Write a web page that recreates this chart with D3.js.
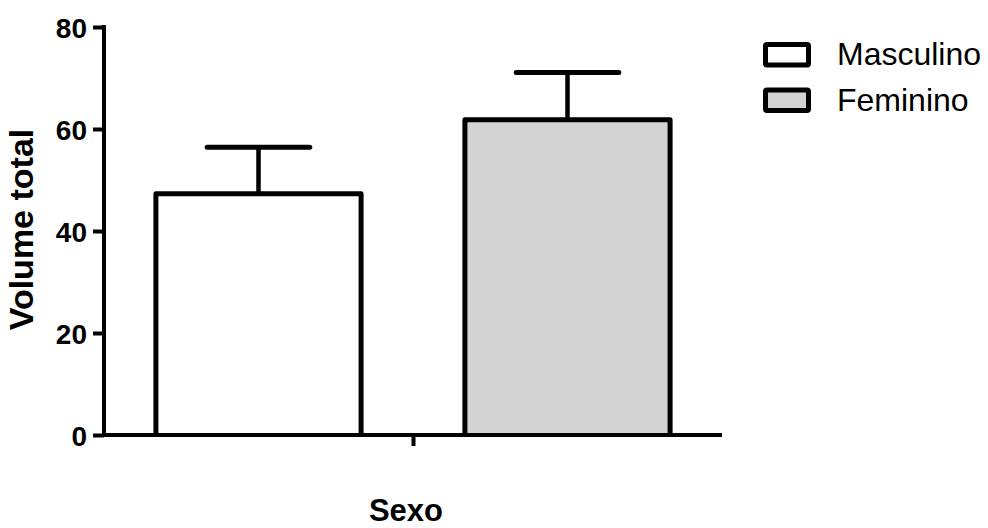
<!DOCTYPE html>
<html>
<head>
<meta charset="utf-8">
<script src="https://cdn.jsdelivr.net/npm/d3@7"></script>
<style>
  html, body { margin: 0; padding: 0; background: #fff; }
  svg { display: block; font-family: Arial, "Liberation Sans", sans-serif; }
</style>
</head>
<body>
<svg id="chart" width="988" height="528"></svg>
<script>
const seriesNames = ["Masculino", "Feminino"];
const meanValues = [47.3, 61.8];
const errorUpper = [56.4, 71.1];
const seriesFills = ["#ffffff", "#d3d3d3"];
const yTicks = [0, 20, 40, 60, 80];
const categoryLabel = "Sexo";
const yLabel = "Volume total";

const svg = d3.select("#chart");
const x0 = 104, x1 = 722, yTop = 27, yBase = 435;

const y = d3.scaleLinear().domain([0, 80]).range([yBase, yTop]);
const x = d3.scaleBand().domain(seriesNames).range([x0, x1]).paddingInner(0.336).paddingOuter(0.168);

// bars
const bars = svg.append("g");
seriesNames.forEach((s, i) => {
  const bx = x(s), bw = x.bandwidth(), ty = y(meanValues[i]);
  bars.append("rect")
    .attr("x", bx).attr("y", ty).attr("width", bw).attr("height", yBase - ty)
    .attr("fill", seriesFills[i]).attr("stroke", "none");
  bars.append("path")
    .attr("d", `M${bx},${yBase} V${ty} H${bx + bw} V${yBase}`)
    .attr("fill", "none").attr("stroke", "#000").attr("stroke-width", 5)
    .attr("stroke-linejoin", "round");
  // error bar
  const cx = bx + bw / 2, ey = y(errorUpper[i]);
  bars.append("line").attr("x1", cx).attr("x2", cx).attr("y1", ty).attr("y2", ey)
    .attr("stroke", "#000").attr("stroke-width", 4.5);
  bars.append("line").attr("x1", cx - bw / 4).attr("x2", cx + bw / 4).attr("y1", ey).attr("y2", ey)
    .attr("stroke", "#000").attr("stroke-width", 5).attr("stroke-linecap", "round");
});

// y axis
const yAxis = svg.append("g").attr("transform", `translate(${x0},0)`)
  .call(d3.axisLeft(y).tickValues(yTicks).tickSize(11).tickPadding(6).tickSizeOuter(0));
yAxis.select(".domain").attr("stroke", "#000").attr("stroke-width", 4)
  .attr("d", `M0,${yTop - 2}V${yBase + 2}`);
yAxis.selectAll(".tick line").attr("stroke", "#000").attr("stroke-width", 4);
yAxis.selectAll(".tick text").attr("font-size", 28).attr("font-weight", "bold")
  .attr("fill", "#000").attr("font-family", "Arial, 'Liberation Sans', sans-serif").attr("dy", "0.36em");

// x axis
const xMid = d3.scaleLinear().domain([0, 1]).range([x0, x1]);
const xAxis = svg.append("g").attr("transform", `translate(0,${yBase})`)
  .call(d3.axisBottom(xMid).tickValues([0.5]).tickFormat(() => "").tickSize(11).tickSizeOuter(0));
xAxis.select(".domain").attr("stroke", "#000").attr("stroke-width", 4)
  .attr("d", `M${x0 - 2},0H${x1}`);
xAxis.selectAll(".tick line").attr("stroke", "#000").attr("stroke-width", 4);

// axis titles
svg.append("text").attr("x", 406).attr("y", 521).attr("text-anchor", "middle")
  .attr("font-size", 31).attr("font-weight", "bold").text(categoryLabel);
svg.append("text").attr("transform", "translate(33,229.5) rotate(-90)")
  .attr("text-anchor", "middle").attr("font-size", 34).attr("font-weight", "bold").text(yLabel);

// legend
const legend = svg.append("g");
seriesNames.forEach((s, i) => {
  const gy = 44.5 + i * 45.5;
  legend.append("rect").attr("x", 765.5).attr("y", gy).attr("width", 43).attr("height", 20.5)
    .attr("fill", seriesFills[i]).attr("stroke", "#000").attr("stroke-width", 5).attr("rx", 1.5);
  legend.append("text").attr("x", 837).attr("y", gy + 20.5).attr("font-size", 32).text(s);
});
</script>
</body>
</html>
